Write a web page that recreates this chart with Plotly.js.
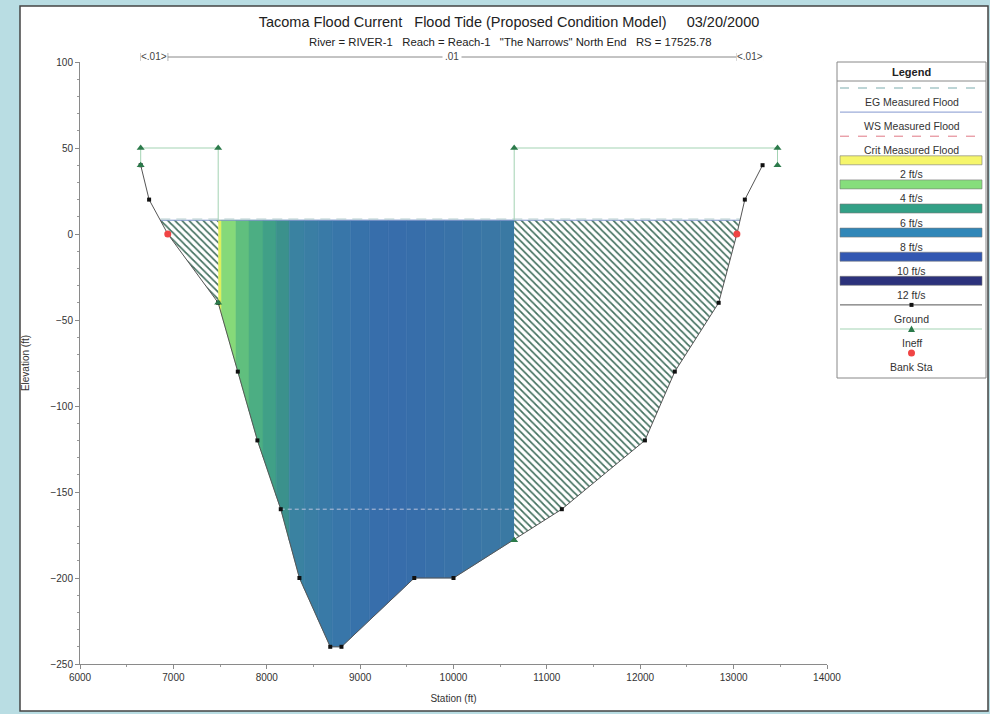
<!DOCTYPE html>
<html><head><meta charset="utf-8">
<script src="https://cdn.plot.ly/plotly-3.0.1.min.js"></script>
<style>html,body{margin:0;padding:0;background:#b9dde3;} #chart{width:990px;height:714px;}</style>
</head><body><div id="chart"></div>
<script>
// ---------------- data ----------------
const groundSta  = [6650, 6740, 6940, 7480, 7690, 7900, 8150, 8350, 8680, 8800, 9580, 10000, 11160, 12050, 12370, 12840, 13035, 13120, 13310];
const groundElev = [40, 20, 0, -40, -80, -120, -160, -200, -240, -240, -200, -200, -160, -120, -80, -40, 0, 20, 40];
const bankSta = [6940, 13035];
const wsElev = 8;
const egElev = 8.7;
const critElev = -160;
const ineffLeftSta = [6650, 7480];
const ineffRightSta = [10650, 13470];
const ineffElev = 50;
const ineffMarkSta = [6650, 7480, 10650, 13470];
const ineffMarkElev = [40, -40, -178, 40];
const bandEdges = [7480, 7515, 7670, 7810, 7960, 8100, 8240, 8400, 8550, 8700, 8900, 9100, 9300, 9500, 9700, 9900, 10100, 10300, 10500, 10650];
const bandColors = ['#e2ef5c', '#86d979', '#60bf7e', '#4cae83', '#40a087', '#3b918c',
  '#3a82a1', '#3a7ea4', '#397aa7', '#3876a9', '#3772aa', '#376eab', '#376dab', '#376eaa', '#3870a9', '#3972a8', '#3975a6', '#3a77a5', '#3a79a3'];
const nSta = [6650, 6940, 13035, 13310];
const nVal = ['.01', '.01', '.01'];
const titleText = 'Tacoma Flood Current\u00a0\u00a0\u00a0Flood Tide (Proposed Condition Model)\u00a0\u00a0\u00a0\u00a0\u00a003/20/2000';
const subTitleText = 'River = RIVER-1\u00a0\u00a0\u00a0Reach = Reach-1\u00a0\u00a0\u00a0"The Narrows" North End\u00a0\u00a0\u00a0RS = 17525.78';
const legendItems = [
  {name: 'EG Measured Flood', kind: 'line', color: '#7aabad', dash: 'dash'},
  {name: 'WS Measured Flood', kind: 'line', color: '#8398cf', dash: 'solid'},
  {name: 'Crit Measured Flood', kind: 'line', color: '#e07884', dash: 'dash'},
  {name: '2 ft/s', kind: 'bar', color: '#f6f66c'},
  {name: '4 ft/s', kind: 'bar', color: '#86de7c'},
  {name: '6 ft/s', kind: 'bar', color: '#33a086'},
  {name: '8 ft/s', kind: 'bar', color: '#3187b8'},
  {name: '10 ft/s', kind: 'bar', color: '#3257b2'},
  {name: '12 ft/s', kind: 'bar', color: '#2c327c'},
  {name: 'Ground', kind: 'ground'},
  {name: 'Ineff', kind: 'ineff'},
  {name: 'Bank Sta', kind: 'bank'}
];

// ---------------- helpers ----------------
const FONT = 'Arial, "Liberation Sans", sans-serif';
function groundAt(s) {
  for (let i = 0; i < groundSta.length - 1; i++) {
    if (s >= groundSta[i] && s <= groundSta[i + 1]) {
      const t = (s - groundSta[i]) / (groundSta[i + 1] - groundSta[i]);
      return groundElev[i] + t * (groundElev[i + 1] - groundElev[i]);
    }
  }
  return null;
}
function crossing(level, fromLeft) {
  if (fromLeft) {
    for (let i = 0; i < groundSta.length - 1; i++) {
      if (groundElev[i] >= level && groundElev[i + 1] < level) {
        const t = (groundElev[i] - level) / (groundElev[i] - groundElev[i + 1]);
        return groundSta[i] + t * (groundSta[i + 1] - groundSta[i]);
      }
    }
  } else {
    for (let i = groundSta.length - 2; i >= 0; i--) {
      if (groundElev[i] < level && groundElev[i + 1] >= level) {
        const t = (level - groundElev[i]) / (groundElev[i + 1] - groundElev[i]);
        return groundSta[i] + t * (groundSta[i + 1] - groundSta[i]);
      }
    }
  }
  return null;
}
function waterPoly(a, b, ws) {
  const xs = [a, b, b], ys = [ws, ws, groundAt(b)];
  for (let i = groundSta.length - 1; i >= 0; i--) {
    if (groundSta[i] > a && groundSta[i] < b) { xs.push(groundSta[i]); ys.push(groundElev[i]); }
  }
  xs.push(a); ys.push(groundAt(a)); xs.push(a); ys.push(ws);
  return {x: xs, y: ys};
}
const L = 80, R = 827, T = 62, B = 664;
const px2x = p => (p - L) / (R - L);
const py2y = p => (B - p) / (B - T);

// ---------------- traces ----------------
const traces = [];
const wsL = crossing(wsElev, true), wsR = crossing(wsElev, false);
for (let i = 0; i < bandColors.length; i++) {
  const p = waterPoly(bandEdges[i], bandEdges[i + 1], wsElev);
  traces.push({type: 'scatter', mode: 'lines', x: p.x, y: p.y, fill: 'toself', fillcolor: bandColors[i],
    line: {color: bandColors[i], width: 0.5}, hoverinfo: 'skip', showlegend: false});
}
const critL = crossing(critElev, true), critR = crossing(critElev, false);
traces.push({type: 'scatter', mode: 'lines', x: [critL, critR], y: [critElev, critElev],
  line: {color: '#b9c3dc', width: 1, dash: '4px,3px'}, hoverinfo: 'skip', showlegend: false});
const hatch = {shape: '\\', fgcolor: '#43705f', bgcolor: '#ffffff', size: 5, solidity: 0.34};
const hl = waterPoly(wsL, ineffLeftSta[1], wsElev);
traces.push({type: 'scatter', mode: 'lines', x: hl.x, y: hl.y, fill: 'toself', fillcolor: '#ffffff', fillpattern: hatch,
  line: {width: 0}, hoverinfo: 'skip', showlegend: false});
const hr = waterPoly(ineffRightSta[0], wsR, wsElev);
traces.push({type: 'scatter', mode: 'lines', x: hr.x, y: hr.y, fill: 'toself', fillcolor: '#ffffff', fillpattern: hatch,
  line: {width: 0}, hoverinfo: 'skip', showlegend: false});
traces.push({type: 'scatter', mode: 'lines', name: 'WS Measured Flood', x: [wsL, wsR], y: [wsElev, wsElev],
  line: {color: '#7a92c8', width: 1}, showlegend: false});
traces.push({type: 'scatter', mode: 'lines', name: 'EG Measured Flood', x: [wsL, wsR], y: [egElev, egElev],
  line: {color: '#b3cccc', width: 1, dash: '10px,6px'}, showlegend: false});
traces.push({type: 'scatter', mode: 'lines', x: [ineffLeftSta[0], ineffLeftSta[0], ineffLeftSta[1], ineffLeftSta[1]],
  y: [ineffMarkElev[0], ineffElev, ineffElev, wsElev], line: {color: '#a3d3b3', width: 1}, showlegend: false, hoverinfo: 'skip'});
traces.push({type: 'scatter', mode: 'lines', x: [ineffRightSta[0], ineffRightSta[0], ineffRightSta[1], ineffRightSta[1]],
  y: [wsElev, ineffElev, ineffElev, ineffMarkElev[3]], line: {color: '#a3d3b3', width: 1}, showlegend: false, hoverinfo: 'skip'});
traces.push({type: 'scatter', mode: 'lines+markers', name: 'Ground', x: groundSta, y: groundElev,
  line: {color: '#555555', width: 1}, marker: {symbol: 'square', size: 4, color: '#111111'}, showlegend: false});
traces.push({type: 'scatter', mode: 'markers', name: 'Ineff',
  x: ineffLeftSta.concat(ineffRightSta).concat(ineffMarkSta),
  y: [ineffElev, ineffElev, ineffElev, ineffElev].concat(ineffMarkElev),
  marker: {symbol: 'triangle-up', size: 7, color: '#2b7a4a'}, showlegend: false});
traces.push({type: 'scatter', mode: 'markers', name: 'Bank Sta', x: bankSta, y: bankSta.map(groundAt),
  marker: {symbol: 'circle', size: 7, color: '#f04444'}, showlegend: false});

// ---------------- shapes & annotations ----------------
const shapes = [];
const annotations = [];
shapes.push({type: 'rect', xref: 'paper', yref: 'paper', x0: px2x(20), x1: px2x(988), y0: py2y(711), y1: py2y(6),
  fillcolor: '#ffffff', line: {color: '#444444', width: 1.5}, layer: 'below'});
annotations.push({xref: 'paper', yref: 'paper', x: px2x(510), y: py2y(42), text: subTitleText, showarrow: false,
  xanchor: 'center', yanchor: 'middle', font: {family: FONT, size: 11.3, color: '#222'}});
const ny = py2y(57);
shapes.push({type: 'line', xref: 'x', yref: 'paper', x0: nSta[0], x1: nSta[nSta.length - 1], y0: ny, y1: ny, line: {color: '#888', width: 1}});
nSta.forEach(s => shapes.push({type: 'line', xref: 'x', yref: 'paper', x0: s, x1: s, y0: ny - 4 / 602, y1: ny + 4 / 602, line: {color: '#888', width: 1}}));
for (let i = 0; i < nVal.length; i++) {
  const mid = (nSta[i] + nSta[i + 1]) / 2;
  const narrow = (nSta[i + 1] - nSta[i]) < 1000;
  annotations.push({xref: 'x', yref: 'paper', x: mid, y: ny, text: narrow ? '&lt;' + nVal[i] + '&gt;' : nVal[i],
    showarrow: false, xanchor: 'center', yanchor: 'middle', bgcolor: '#ffffff', borderpad: narrow ? 0 : 2,
    font: {family: FONT, size: 10, color: '#444'}});
}
const LX0 = 837, LX1 = 986, LC = (LX0 + LX1) / 2;
shapes.push({type: 'rect', xref: 'paper', yref: 'paper', x0: px2x(LX0), x1: px2x(LX1), y0: py2y(378), y1: py2y(62),
  fillcolor: '#ffffff', line: {color: '#888', width: 1}});
shapes.push({type: 'line', xref: 'paper', yref: 'paper', x0: px2x(LX0), x1: px2x(LX1), y0: py2y(81), y1: py2y(81),
  line: {color: '#888', width: 1}});
annotations.push({xref: 'paper', yref: 'paper', x: px2x(LC), y: py2y(72), text: '<b>Legend</b>', showarrow: false,
  xanchor: 'center', yanchor: 'middle', font: {family: FONT, size: 11, color: '#222'}});
legendItems.forEach((it, i) => {
  const sy = 88 + i * 24.1;
  const ty = sy + 14;
  const x0 = px2x(LX0 + 3), x1 = px2x(LX1 - 4), xc = px2x(LC);
  if (it.kind === 'line') {
    shapes.push({type: 'line', xref: 'paper', yref: 'paper', x0, x1, y0: py2y(sy), y1: py2y(sy),
      line: {color: it.color, width: 1, dash: it.dash}});
  } else if (it.kind === 'bar') {
    shapes.push({type: 'rect', xref: 'paper', yref: 'paper', x0, x1, y0: py2y(sy + 4.5), y1: py2y(sy - 4.5),
      fillcolor: it.color, line: {color: '#777', width: 0.6}});
  } else if (it.kind === 'ground') {
    shapes.push({type: 'line', xref: 'paper', yref: 'paper', x0, x1, y0: py2y(sy), y1: py2y(sy), line: {color: '#555', width: 1}});
    shapes.push({type: 'rect', xref: 'paper', yref: 'paper', x0: px2x(LC - 2), x1: px2x(LC + 2), y0: py2y(sy + 2), y1: py2y(sy - 2),
      fillcolor: '#111', line: {width: 0}});
  } else if (it.kind === 'ineff') {
    shapes.push({type: 'line', xref: 'paper', yref: 'paper', x0, x1, y0: py2y(sy), y1: py2y(sy), line: {color: '#a3d3b3', width: 1}});
    shapes.push({type: 'path', xref: 'paper', yref: 'paper',
      path: `M ${px2x(LC - 3.5)},${py2y(sy + 3)} L ${px2x(LC + 3.5)},${py2y(sy + 3)} L ${px2x(LC)},${py2y(sy - 3.5)} Z`,
      fillcolor: '#2b7a4a', line: {width: 0}});
  } else if (it.kind === 'bank') {
    shapes.push({type: 'circle', xref: 'paper', yref: 'paper', x0: px2x(LC - 3.5), x1: px2x(LC + 3.5), y0: py2y(sy + 3.5), y1: py2y(sy - 3.5),
      fillcolor: '#f04444', line: {width: 0}});
  }
  annotations.push({xref: 'paper', yref: 'paper', x: xc, y: py2y(ty), text: it.name, showarrow: false,
    xanchor: 'center', yanchor: 'middle', font: {family: FONT, size: 10.5, color: '#333'}});
});

// ---------------- layout ----------------
const axisCommon = {
  showgrid: false, zeroline: false, showline: true, linecolor: '#8a8a8a', linewidth: 1,
  ticks: 'outside', ticklen: 4, tickcolor: '#8a8a8a', tickwidth: 1, tickformat: 'd',
  tickfont: {family: FONT, size: 10, color: '#333'}
};
const layout = {
  width: 990, height: 714,
  margin: {l: L, r: 990 - R, t: T, b: 714 - B, pad: 0},
  paper_bgcolor: '#b9dde3', plot_bgcolor: 'rgba(0,0,0,0)',
  font: {family: FONT, color: '#333'},
  showlegend: false,
  title: {text: titleText, font: {family: FONT, size: 14.5, color: '#222'}, xref: 'container', yref: 'container',
    x: 509 / 990, xanchor: 'center', y: 1 - 22 / 714, yanchor: 'middle'},
  xaxis: Object.assign({}, axisCommon, {
    range: [6000, 14000], tick0: 6000, dtick: 1000,
    minor: {dtick: 500, ticks: 'outside', ticklen: 2, tickcolor: '#999'},
    title: {text: 'Station (ft)', font: {family: FONT, size: 10, color: '#333'}, standoff: 12}
  }),
  yaxis: Object.assign({}, axisCommon, {
    range: [-250, 100], tick0: -250, dtick: 50,
    minor: {dtick: 10, ticks: 'outside', ticklen: 2, tickcolor: '#999'},
    title: {text: 'Elevation (ft)', font: {family: FONT, size: 10, color: '#333'}, standoff: 18}
  }),
  shapes, annotations
};
Plotly.newPlot('chart', traces, layout, {displayModeBar: false, staticPlot: true});
</script>
</body></html>
